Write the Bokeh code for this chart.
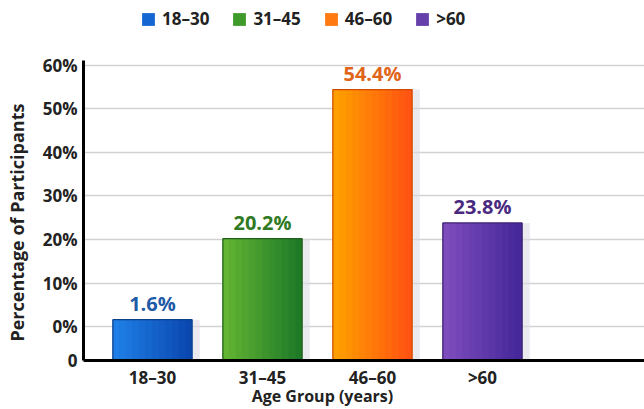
from bokeh.plotting import figure
from bokeh.models import ColumnDataSource, Legend, LegendItem, FixedTicker, Range1d, LabelSet
from bokeh.core.properties import value
from bokeh.embed import file_html
from bokeh.resources import INLINE

categories = ["18–30", "31–45", "46–60", ">60"]
values = [1.6, 20.2, 54.4, 23.8]
value_labels = ["1.6%", "20.2%", "54.4%", "23.8%"]
y_ticks = [0, 10, 20, 30, 40, 50, 60]
bar_light = ["#1f7fe6", "#62b432", "#ffa000", "#7e4cbc"]
bar_dark = ["#0a48b0", "#1f7a28", "#ff5412", "#45289a"]
bar_mid = ["#1467d2", "#3f9a2c", "#ff7a10", "#6540aa"]
bar_lines = ["#0c3f8a", "#1f5e18", "#d04a00", "#3a2070"]
label_colors = ["#1f5aa6", "#2f7a22", "#e0641a", "#4a2a80"]
baseline = -7.76  # the extra "0" tick below 0%

BAR_W = 0.72
N_STRIPS = 12
NBSP = "\u00a0"


def mix(c1, c2, t):
    a = [int(c1[i:i + 2], 16) for i in (1, 3, 5)]
    b = [int(c2[i:i + 2], 16) for i in (1, 3, 5)]
    return "#%02x%02x%02x" % tuple(round(a[k] + (b[k] - a[k]) * t) for k in range(3))


xs = list(range(len(categories)))
src = ColumnDataSource(dict(
    x=xs, top=values, bottom=[baseline] * len(values),
    xs=[x + 0.07 for x in xs],
    color=bar_mid, line=bar_lines, lab=value_labels, lcol=label_colors,
))

# gradient strips (style only; heights come from values)
sx, stop, sbot, scol = [], [], [], []
for i, x in enumerate(xs):
    for k in range(N_STRIPS):
        sx.append(x - BAR_W / 2 + BAR_W * (k + 0.5) / N_STRIPS)
        stop.append(values[i])
        sbot.append(baseline)
        scol.append(mix(bar_light[i], bar_dark[i], k / (N_STRIPS - 1)))
strip_src = ColumnDataSource(dict(x=sx, top=stop, bottom=sbot, color=scol))

p = figure(width=644, height=409, output_backend="svg", toolbar_location=None,
           x_range=Range1d(-0.627, 4.473), y_range=Range1d(baseline, 74.83),
           min_border_left=83, min_border_right=0, min_border_top=0, min_border_bottom=47)
p.outline_line_color = None
p.background_fill_color = "white"

# shadows
p.vbar(x="xs", top="top", bottom="bottom", width=BAR_W, source=src,
       fill_color="#d8d8e2", fill_alpha=0.55, line_color=None)
bars = p.vbar(x="x", top="top", bottom="bottom", width=BAR_W, source=src,
              fill_color="color", line_color=None)
p.vbar(x="x", top="top", bottom="bottom", width=BAR_W / N_STRIPS * 1.08, source=strip_src,
       fill_color="color", line_color=None)
p.vbar(x="x", top="top", bottom="bottom", width=BAR_W, source=src,
       fill_color=None, line_color="line", line_width=1.2)

labels = LabelSet(x="x", y="top", text="lab", source=src, text_color="lcol",
                  text_align="center", text_baseline="bottom", y_offset=3,
                  text_font=value("Open Sans"), text_font_style="bold", text_font_size="20px")
p.add_layout(labels)

# axes
yax = p.yaxis[0]
yax.ticker = FixedTicker(ticks=[baseline] + y_ticks)
overrides = {baseline: "0"}
for t in y_ticks:
    overrides[t] = f"{t}%"
yax.major_label_overrides = overrides
yax.bounds = (baseline, 61.1)
yax.axis_line_width = 3
yax.axis_line_color = "black"
yax.major_tick_line_color = None
yax.minor_tick_line_color = None
yax.major_tick_out = 0
yax.major_tick_in = 0
yax.major_label_text_font = "Open Sans"
yax.major_label_text_font_style = "bold"
yax.major_label_text_font_size = "17px"
yax.major_label_text_color = "#222222"
yax.major_label_standoff = 6
yax.axis_label = "Percentage of Participants" + NBSP * 18
yax.axis_label_text_font = "Open Sans"
yax.axis_label_text_font_style = "bold"
yax.axis_label_text_font_size = "18px"
yax.axis_label_text_color = "#222222"
yax.axis_label_standoff = 11

xax = p.xaxis[0]
xax.ticker = FixedTicker(ticks=xs)
xax.major_label_overrides = {i: c for i, c in enumerate(categories)}
xax.axis_line_width = 3
xax.axis_line_color = "black"
xax.major_tick_line_color = None
xax.minor_tick_line_color = None
xax.major_tick_out = 0
xax.major_tick_in = 0
xax.major_label_text_font = "Open Sans"
xax.major_label_text_font_style = "bold"
xax.major_label_text_font_size = "17px"
xax.major_label_text_color = "#222222"
xax.major_label_standoff = 5
xax.axis_label = "Age Group (years)" + NBSP * 20
xax.axis_label_text_font = "Open Sans"
xax.axis_label_text_font_style = "bold"
xax.axis_label_text_font_size = "16px"
xax.axis_label_text_color = "#222222"
xax.axis_label_standoff = -7

p.xgrid.grid_line_color = None
p.ygrid.grid_line_color = "#d2d2d2"
p.ygrid.grid_line_width = 1.5

legend = Legend(items=[LegendItem(label=c, renderers=[bars], index=i) for i, c in enumerate(categories)],
                orientation="horizontal", location=(57, 330), padding=0, margin=0,
                spacing=22, label_standoff=6, glyph_width=16, glyph_height=16,
                label_text_font="Open Sans", label_text_font_style="bold",
                label_text_font_size="17px", label_text_color="#222222",
                border_line_alpha=0, background_fill_alpha=0)
p.add_layout(legend)

open("out.html", "w").write(file_html(p, INLINE))
